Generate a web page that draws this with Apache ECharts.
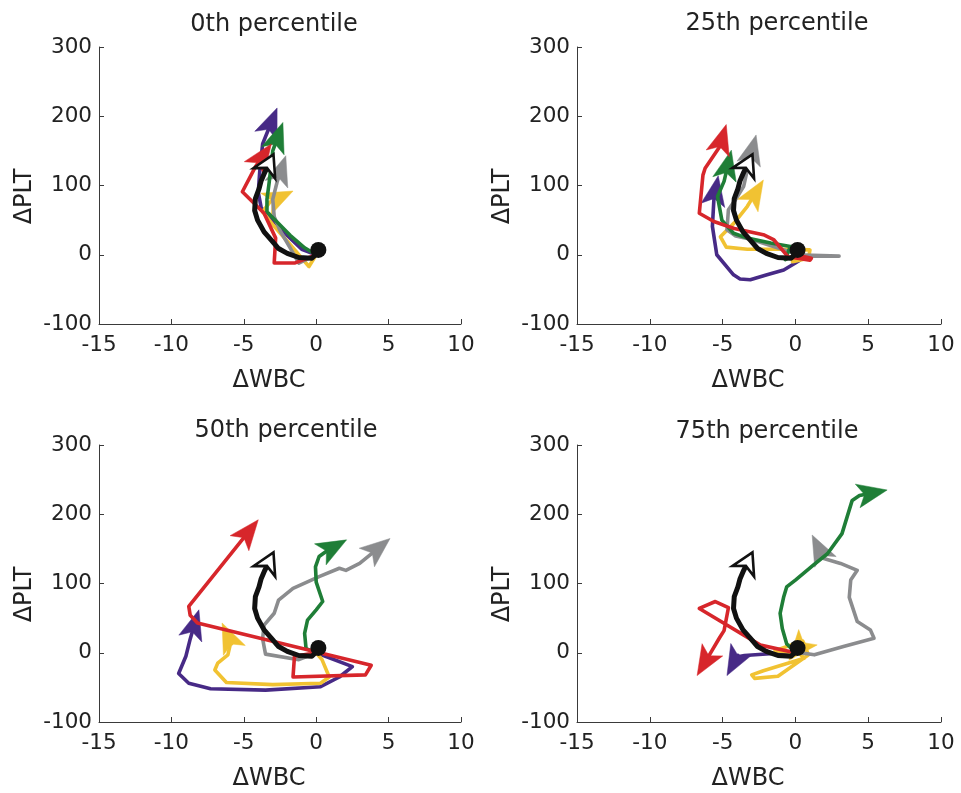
<!DOCTYPE html>
<html><head><meta charset="utf-8">
<script src="https://cdn.jsdelivr.net/npm/echarts@6/dist/echarts.min.js"></script>
<style>html,body{margin:0;padding:0;background:#fff}#c{width:961px;height:793px}</style>
</head><body><div id="c"></div>
<script>
// ---------- data ----------
const panelTitles = ['0th percentile', '25th percentile', '50th percentile', '75th percentile'];
const xAxisName = 'ΔWBC';
const yAxisName = 'ΔPLT';
const xRange = [-15, 10];
const xStep = 5;
const yRange = [-100, 300];
const yStep = 100;
const trajectoryNames = ['purple', 'yellow', 'gray', 'green', 'red'];

// common (black) trajectory and start point
const blackPath = [[0.1,3],[-0.3,-5],[-1.2,-4],[-2.0,2],[-2.6,9],[-3.1,21],[-3.6,33],[-4.05,50],[-4.25,64],[-4.2,81],[-3.95,95],[-3.8,107],[-3.55,119],[-2.95,145]];
const startPoint = [0.15, 7];

// 0th percentile
const p0Purple = [[0,0],[-1.0,8],[-2.0,28],[-3.0,50],[-3.8,68],[-4.0,90],[-3.9,120],[-3.7,160],[-2.7,212]];
const p0Yellow = [[0,0],[-0.5,-17],[-1.2,0],[-2.1,22],[-2.9,41],[-3.7,62],[-3.2,76],[-1.6,92]];
const p0Gray   = [[0,0],[-1.2,-12],[-1.8,10],[-2.5,35],[-2.9,55],[-3.0,80],[-2.7,105],[-2.1,143]];
const p0Green  = [[0,0],[-0.8,10],[-1.8,28],[-2.6,45],[-3.4,62],[-3.4,80],[-3.25,104],[-3.0,150],[-2.3,191]];
const p0Red    = [[0,0],[-1.5,-12],[-2.9,-12],[-2.8,24],[-3.6,60],[-5.1,91],[-4.2,127],[-3.1,160]];

// 25th percentile
const p25Purple = [[0,0],[0.3,-8],[0,-12],[-0.8,-22],[-1.95,-29],[-3.1,-36],[-3.8,-35],[-4.25,-29],[-5.4,0],[-5.7,41],[-5.6,79],[-5.3,114]];
const p25Yellow = [[0,0],[-0.2,-10],[0.9,-5],[1.0,7],[-1.0,8],[-3.3,8],[-4.75,11],[-5.15,26],[-4.2,46],[-3.3,70],[-2.2,108]];
const p25Gray   = [[0,0],[3.0,-2],[0.5,-2],[-1.5,12],[-3.0,22],[-4.1,27],[-4.7,36],[-4.6,65],[-4.1,80],[-3.55,99],[-3.3,123],[-2.7,173]];
const p25Green  = [[0,0],[-0.7,-7],[-0.35,12],[-1.7,17],[-3.3,24],[-4.25,31],[-5.05,50],[-5.35,84],[-4.9,106],[-4.4,151]];
const p25Red    = [[0,0],[1.1,-5],[1.0,-8],[-0.5,-3],[-1.5,22],[-2.2,29],[-4.2,38],[-5.6,48],[-6.6,60],[-6.35,115],[-6.2,125],[-5.2,156],[-4.75,188]];

// 50th percentile
const p50Purple = [[0,0],[2.5,-20],[1.6,-35],[0.3,-49],[-3.5,-54],[-7.3,-52],[-8.8,-44],[-9.5,-30],[-9.0,-5],[-8.7,20],[-8.1,62]];
const p50Yellow = [[0,0],[0.4,-10],[0.9,-35],[0.3,-44],[-3.0,-46],[-6.2,-43],[-7.0,-25],[-6.8,-15],[-6.1,-3],[-5.9,15],[-6.5,43]];
const p50Gray   = [[0,0],[-1.2,-10],[-3.5,-2],[-3.7,20],[-3.6,40],[-2.9,57],[-2.6,76],[-1.6,93],[0.2,110],[1.6,122],[2.05,119],[3.0,129],[5.1,165]];
const p50Green  = [[0,0],[-0.7,6],[-0.8,28],[-0.6,47],[0.0,62],[0.45,74],[0.0,102],[-0.05,124],[0.2,139],[0.8,148],[2.1,163]];
const p50Red    = [[0,0],[-1.5,-5],[-1.6,-35],[3.4,-32],[3.8,-18],[-8.2,43],[-8.7,54],[-8.8,67],[-4.0,192]];

// 75th percentile
const p75Purple = [[0,0],[-1.5,-1],[-3.5,-4],[-4.0,-6],[-4.7,-33]];
const p75Yellow = [[0,0],[-1.4,3],[0.5,17],[0.9,-3],[-1.2,-34],[-2.8,-37],[-3.0,-32],[-2.2,-26],[0.6,-8],[0.1,3],[-0.45,-11]];
const p75Gray   = [[0,0],[0.7,-1],[1.3,-3],[3.3,9],[5.4,21],[5.15,33],[4.25,45],[3.7,80],[3.8,105],[4.25,119],[3.1,129],[1.95,136],[1.15,170]];
const p75Green  = [[0,0],[-0.6,13],[-0.9,35],[-1.05,57],[-0.8,81],[-0.6,95],[0,105],[1.25,127],[2.2,143],[3.2,172],[3.9,220],[4.4,227],[6.3,235]];
const p75Red    = [[0,0],[-2.4,11],[-6.6,64],[-5.5,74],[-4.6,65],[-4.9,32],[-5.2,22],[-6.75,-33]];

// ---------- styling / layout ----------
const panels = [
  [p0Purple, p0Yellow, p0Gray, p0Green, p0Red],
  [p25Purple, p25Yellow, p25Gray, p25Green, p25Red],
  [p50Purple, p50Yellow, p50Gray, p50Green, p50Red],
  [p75Purple, p75Yellow, p75Gray, p75Green, p75Red]
];
const colors = { purple: '#472a86', yellow: '#f1c232', gray: '#8b8c8e', green: '#1f7e37', red: '#d7262b' };
const grids = [
  { left: 99, top: 47, width: 362, height: 277 },
  { left: 577, top: 47, width: 364, height: 277 },
  { left: 99, top: 445, width: 362, height: 277 },
  { left: 577, top: 445, width: 364, height: 277 }
];
const titlePos = [[274, 25], [777, 23.5], [286, 430.5], [767, 432]];
const FONT = '"DejaVu Sans", "Liberation Sans", Arial, sans-serif';
const AXIS_COLOR = '#3a3a3a';
const TEXT_COLOR = '#222';

// draws a whole trajectory (polyline through the axis scales) ending in an arrowhead
function trajectoryRenderer(path, o) {
  return function (params, api) {
    if (params.dataIndex !== path.length - 1) return null;
    const pts = path.map(p => api.coord(p));
    const b = pts[pts.length - 1], a = pts[pts.length - 2];
    let dx = b[0] - a[0], dy = b[1] - a[1];
    const d = Math.hypot(dx, dy) || 1; dx /= d; dy /= d;
    const nx = -dy, ny = dx;
    const L = o.L, H = o.H, N = o.N;
    const notch = [b[0] - N * dx, b[1] - N * dy];
    const head = [
      [b[0], b[1]],
      [b[0] - L * dx + H * nx, b[1] - L * dy + H * ny],
      notch,
      [b[0] - L * dx - H * nx, b[1] - L * dy - H * ny]
    ];
    const linePts = pts.slice(0, -1).concat([notch]);
    return {
      type: 'group',
      children: [
        { type: 'polyline', shape: { points: linePts },
          style: { stroke: o.color, lineWidth: o.lw, fill: null, lineJoin: 'round', lineCap: 'round' } },
        { type: 'polygon', shape: { points: head },
          style: { fill: o.fill, stroke: o.stroke, lineWidth: o.alw, lineJoin: 'miter' } }
      ]
    };
  };
}

const xAxes = [], yAxes = [], series = [], graphics = [];
grids.forEach((g, i) => {
  xAxes.push({
    gridIndex: i, type: 'value', min: xRange[0], max: xRange[1], interval: xStep,
    axisLine: { onZero: false, lineStyle: { color: AXIS_COLOR, width: 1 } },
    axisTick: { inside: true, length: 5, lineStyle: { color: AXIS_COLOR, width: 1 } },
    splitLine: { show: false },
    axisLabel: { fontSize: 21.5, color: TEXT_COLOR, fontFamily: FONT, margin: 10 },
    name: xAxisName, nameLocation: 'middle', nameGap: 45,
    nameTextStyle: { fontSize: 24, color: TEXT_COLOR, fontFamily: FONT, padding: [0, 22, 0, 0] }
  });
  yAxes.push({
    gridIndex: i, type: 'value', min: yRange[0], max: yRange[1], interval: yStep,
    axisLine: { onZero: false, lineStyle: { color: AXIS_COLOR, width: 1 } },
    axisTick: { inside: true, length: 5, lineStyle: { color: AXIS_COLOR, width: 1 } },
    splitLine: { show: false },
    axisLabel: { fontSize: 21.5, color: TEXT_COLOR, fontFamily: FONT, margin: 7 },
    name: yAxisName, nameLocation: 'middle', nameGap: 62,
    nameTextStyle: { fontSize: 24, color: TEXT_COLOR, fontFamily: FONT, padding: [0, 22, 0, 0] }
  });
  graphics.push({
    type: 'text', x: titlePos[i][0], y: titlePos[i][1],
    style: { text: panelTitles[i], fontSize: 24, fontFamily: FONT, fill: TEXT_COLOR,
             align: 'center', verticalAlign: 'middle', textAlign: 'center', textVerticalAlign: 'middle' }
  });
  panels[i].forEach((path, k) => {
    const c = colors[trajectoryNames[k]];
    series.push({
      type: 'custom', name: trajectoryNames[k], xAxisIndex: i, yAxisIndex: i, data: path,
      encode: { x: 0, y: 1 }, z: 2, silent: true, clip: false,
      renderItem: trajectoryRenderer(path, { color: c, lw: 3.6, L: 30, H: 12, N: 23, fill: c, stroke: c, alw: 0.5 })
    });
  });
  series.push({
    type: 'custom', name: 'black', xAxisIndex: i, yAxisIndex: i, data: blackPath,
    encode: { x: 0, y: 1 }, z: 4, silent: true, clip: false,
    renderItem: trajectoryRenderer(blackPath, { color: '#111', lw: 5, L: 21, H: 12, N: 15, fill: '#fff', stroke: '#111', alw: 2.6 })
  });
  series.push({
    type: 'scatter', xAxisIndex: i, yAxisIndex: i, data: [startPoint],
    symbol: 'circle', symbolSize: 16, itemStyle: { color: '#111', opacity: 1 }, z: 6, silent: true
  });
});

const chart = echarts.init(document.getElementById('c'), null, { renderer: 'canvas' });
chart.setOption({
  animation: false,
  backgroundColor: '#fff',
  grid: grids,
  xAxis: xAxes,
  yAxis: yAxes,
  series: series,
  graphic: graphics
});
</script>
</body></html>
